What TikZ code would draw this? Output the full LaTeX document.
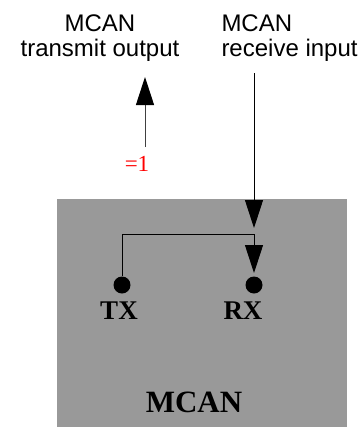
\documentclass[tikz,border=0pt]{standalone}
\usepackage{fontspec}
\setmainfont{Liberation Serif}
\newfontfamily\helv{Liberation Sans}
\usetikzlibrary{arrows.meta}

\begin{document}
\begin{tikzpicture}[
    x=1pt, y=-1pt,
    >={Triangle[length=28pt, width=18pt]},
    line width=1pt,
    pin/.style={circle, fill=black, minimum size=17pt, inner sep=0pt},
    pinlabel/.style={anchor=base, font=\bfseries\fontsize{27}{29}\selectfont},
    sig/.style={font=\helv\fontsize{24}{25}\selectfont}
  ]
  \useasboundingbox (0,0) rectangle (359,437);

  % Baustein
  \fill[black!40] (57,199) rectangle (347,427);
  \node[anchor=base, font=\bfseries\fontsize{31}{33}\selectfont] (mcan) at (194,412) {MCAN};

  % Pins
  \node[pin] (tx) at (122,285) {};
  \node[pin] (rx) at (254,285) {};
  \node[pinlabel] (txlbl) at (119,319) {TX};
  \node[pinlabel] (rxlbl) at (243,319) {RX};

  % Signale
  \node[sig, align=center] (txsig) at (100,38) {MCAN\\transmit output};
  \node[sig, align=left, anchor=west, inner sep=0pt] (rxsig) at (221,38) {MCAN\\receive input};
  \node[anchor=base, text=red, font=\fontsize{23}{25}\selectfont] (one) at (137,171) {=1};

  \coordinate (txout) at (145,77);
  \coordinate (txin) at (145,147);
  \coordinate (rxin) at (254,73);
  \coordinate (j) at (254,234);

  % Verbindungen
  \draw[-{Triangle[length=28pt, width=18pt, color=black]}, black!75] (txin) -- (txout);
  \draw[->, shorten >=6pt] (rxin) -- (j);
  \draw[->, shorten >=3pt] (j) -- (rx);
  \draw (j) -| (tx);

\end{tikzpicture}
\end{document}
